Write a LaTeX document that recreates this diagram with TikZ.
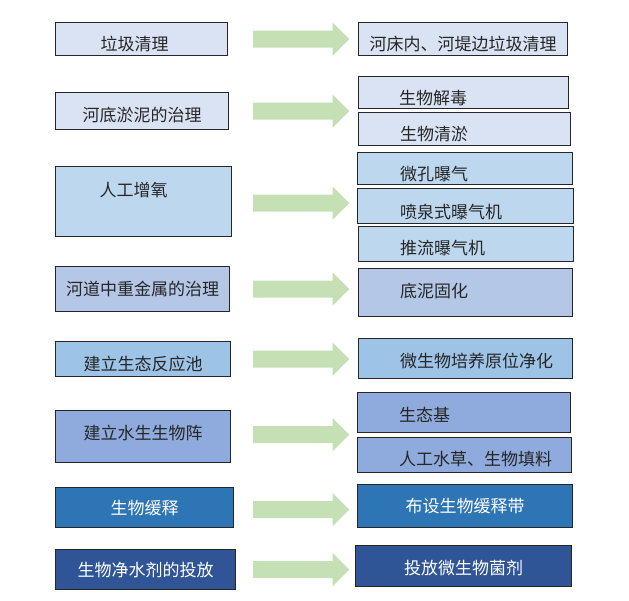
\documentclass[tikz,border=0pt]{standalone}
\usepackage{fontspec}
\newfontfamily\cjk{Noto Sans CJK SC}
\definecolor{boxpale}{RGB}{218,227,243}
\definecolor{boxsky}{RGB}{189,215,238}
\definecolor{boxlav}{RGB}{180,199,231}
\definecolor{boxmid}{RGB}{157,195,230}
\definecolor{boxperi}{RGB}{143,170,220}
\definecolor{boxblue}{RGB}{46,117,182}
\definecolor{boxnavy}{RGB}{47,85,151}
\definecolor{arrgreen}{RGB}{197,224,180}
\usepackage{tikz}
\usetikzlibrary{shapes.arrows, positioning}

\tikzset{
  box/.style={draw=black!85, line width=1.1pt, anchor=north west, inner sep=0pt},
  txt/.style={font=\cjk\fontsize{17}{20}\selectfont, text=black!85, text height=15pt, text depth=2pt, inner sep=0pt},
  wtxt/.style={txt, text=white},
  garrow/.style={single arrow, anchor=tail, fill=arrgreen, draw=none, minimum height=96pt, inner xsep=0pt, inner ysep=8.25pt, single arrow head extend=8.25pt}
}

\begin{document}
\begin{tikzpicture}[x=1pt, y=-1pt]
        \useasboundingbox (0,0) rectangle (629,600);
        \coordinate (tailx) at (253,0);
        % left column
        \node[box, fill=boxpale, minimum width=172pt, minimum height=33pt] (l1) at (55,22) {};
        \node[box, fill=boxpale, minimum width=173pt, minimum height=37pt] (l2) at (55,92) {};
        \node[box, fill=boxsky, minimum width=176pt, minimum height=70pt] (l3) at (55,166) {};
        \node[box, fill=boxlav, minimum width=174pt, minimum height=45pt] (l4) at (55,266) {};
        \node[box, fill=boxmid, minimum width=175pt, minimum height=35pt] (l5) at (55,341) {};
        \node[box, fill=boxperi, minimum width=175pt, minimum height=52pt] (l6) at (55,410) {};
        \node[box, fill=boxblue, minimum width=178pt, minimum height=40pt] (l7) at (55,487) {};
        \node[box, fill=boxnavy, minimum width=180pt, minimum height=40pt] (l8) at (55,549) {};
        \node[txt] (tl1) at ([xshift=-7pt, yshift=-5pt]l1.center) {垃圾清理};
        \node[txt] (tl2) at ([yshift=-3.5pt]l2.center) {河底淤泥的治理};
        \node[txt] (tl3) at ([xshift=-10pt, yshift=12pt]l3.center) {人工增氧};
        \node[txt] (tl4) at (l4.center) {河道中重金属的治理};
        \node[txt] (tl5) at ([yshift=-4.5pt]l5.center) {建立生态反应池};
        \node[txt] (tl6) at ([yshift=4pt]l6.center) {建立水生生物阵};
        \node[wtxt] (tl7) at (l7.center) {生物缓释};
        \node[wtxt] (tl8) at (l8.center) {生物净水剂的投放};
        % right column
        \node[box, fill=boxpale, minimum width=209pt, minimum height=33pt] (r1) at (358,22) {};
        \node[box, fill=boxpale, minimum width=210pt, minimum height=32pt] (r2a) at (358,76) {};
        \node[box, fill=boxpale, minimum width=212pt, minimum height=33pt] (r2b) at (358,112) {};
        \node[box, fill=boxsky, minimum width=215pt, minimum height=32pt] (r3a) at (357,152) {};
        \node[box, fill=boxsky, minimum width=216pt, minimum height=35pt] (r3b) at (357,188) {};
        \node[box, fill=boxsky, minimum width=215pt, minimum height=35pt] (r3c) at (358,226) {};
        \node[box, fill=boxlav, minimum width=214pt, minimum height=48pt] (r4) at (358,268) {};
        \node[box, fill=boxmid, minimum width=214pt, minimum height=40pt] (r5) at (358,338) {};
        \node[box, fill=boxperi, minimum width=213pt, minimum height=40pt] (r6a) at (357,392) {};
        \node[box, fill=boxperi, minimum width=214pt, minimum height=35pt] (r6b) at (357,437) {};
        \node[box, fill=boxblue, minimum width=215pt, minimum height=43pt] (r7) at (357,484) {};
        \node[box, fill=boxnavy, minimum width=216pt, minimum height=41pt] (r8) at (355,545) {};
        \node[txt] (tr1) at ([yshift=-5pt]r1.center) {河床内、河堤边垃圾清理};
        \node[txt, anchor=west] (tr2a) at ([xshift=41pt, yshift=-5pt]r2a.west) {生物解毒};
        \node[txt, anchor=west] (tr2b) at ([xshift=42pt, yshift=-5pt]r2b.west) {生物清淤};
        \node[txt, anchor=west] (tr3a) at ([xshift=43pt, yshift=-5pt]r3a.west) {微孔曝气};
        \node[txt, anchor=west] (tr3b) at ([xshift=43pt, yshift=-5.5pt]r3b.west) {喷泉式曝气机};
        \node[txt, anchor=west] (tr3c) at ([xshift=42pt, yshift=-4pt]r3c.west) {推流曝气机};
        \node[txt, anchor=west] (tr4) at ([xshift=42pt, yshift=2pt]r4.west) {底泥固化};
        \node[txt, anchor=west] (tr5) at ([xshift=42pt, yshift=-2pt]r5.west) {微生物培养原位净化};
        \node[txt, anchor=west] (tr6a) at ([xshift=42pt, yshift=-2pt]r6a.west) {生态基};
        \node[txt, anchor=west] (tr6b) at ([xshift=42pt, yshift=-4pt]r6b.west) {人工水草、生物填料};
        \node[wtxt] (tr7) at (r7.center) {布设生物缓释带};
        \node[wtxt] (tr8) at ([yshift=-1.5pt]r8.center) {投放微生物菌剂};
        % green arrows
        \node[garrow] (a1) at (l1 -| tailx) {};
        \node[garrow] (a2) at (l2 -| tailx) {};
        \node[garrow] (a3) at ([yshift=-1.5pt]l3.center -| tailx) {};
        \node[garrow] (a4) at (l4 -| tailx) {};
        \node[garrow] (a5) at (l5 -| tailx) {};
        \node[garrow] (a6) at ([yshift=2pt]l6.center -| tailx) {};
        \node[garrow] (a7) at ([yshift=-2pt]l7.center -| tailx) {};
        \node[garrow] (a8) at (l8 -| tailx) {};
      \end{tikzpicture}
\end{document}
